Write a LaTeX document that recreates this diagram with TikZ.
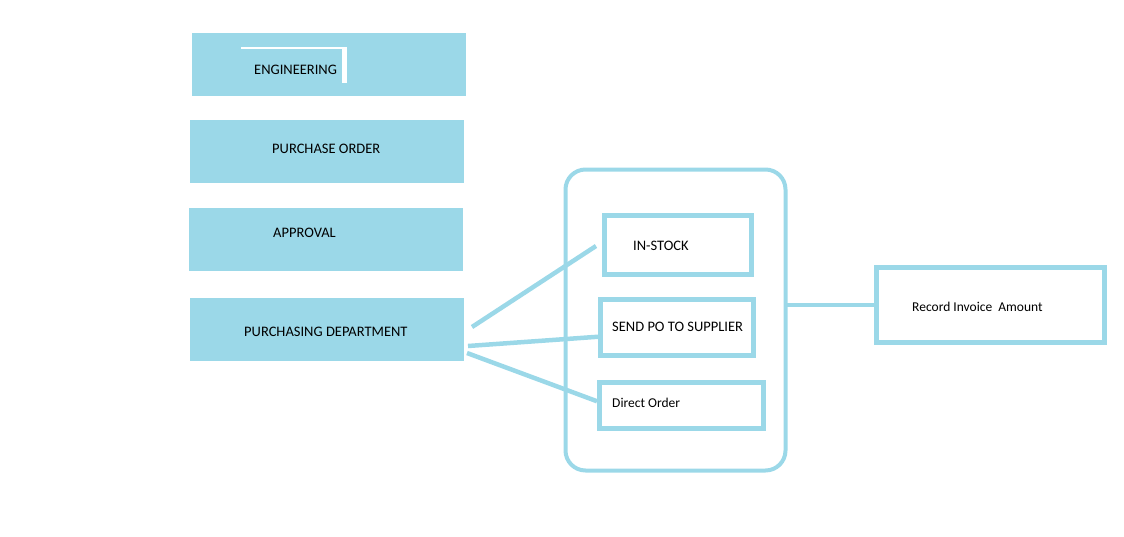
\documentclass[tikz,border=0pt]{standalone}
\usepackage{fontspec}
\setmainfont{Carlito}
\usetikzlibrary{calc}
\definecolor{lblue}{RGB}{155,216,232}
\tikzset{
  fillbox/.style={fill=lblue, draw=none, inner sep=0pt, outer sep=0pt},
  linebox/.style={draw=lblue, line width=5pt, fill=white, inner sep=0pt, outer sep=0pt},
  txt/.style={anchor=west, inner sep=0pt, font=\fontsize{14.5}{16}\selectfont},
  txtm/.style={anchor=west, inner sep=0pt, font=\fontsize{13.5}{15}\selectfont},
  conn/.style={draw=lblue, line width=4.5pt},
}
\begin{document}
\begin{tikzpicture}[x=1pt,y=-1pt]
\useasboundingbox (0,0) rectangle (1124,536);
% left filled boxes
\node[fillbox, minimum width=274pt, minimum height=63pt] (eng) at (329,64.5) {};
\node[fillbox, minimum width=274pt, minimum height=63pt] (po) at (327,151.5) {};
\node[fillbox, minimum width=274pt, minimum height=63pt] (appr) at (326,239.5) {};
\node[fillbox, minimum width=274pt, minimum height=63pt] (pd) at (327,329.5) {};
% white mark in engineering box
\fill[white] (241,47) rectangle (347,49);
\fill[white] (342,47) rectangle (347,83);
\node[txt] (tEng) at (254,70) {ENGINEERING};
\node[txt] (tPo) at (272,149) {PURCHASE ORDER};
\node[txt] (tAppr) at (273,233) {APPROVAL};
\node[txt] (tPd) at (244,332) {PURCHASING DEPARTMENT};
% container
\node[draw=lblue, line width=4pt, rounded corners=20pt, minimum width=220pt, minimum height=301pt, inner sep=0pt, outer sep=0pt] (cont) at (675.5,320) {};
% inner boxes
\node[linebox, minimum width=147.5pt, minimum height=59pt] (instock) at (677.75,245) {};
\node[linebox, minimum width=153pt, minimum height=56.5pt] (sendpo) at (677,327.25) {};
\node[linebox, minimum width=164.5pt, minimum height=45.5pt] (direct) at (681.25,405.25) {};
\node[txt] (tIn) at (633,246) {IN-STOCK};
\node[txt] (tSend) at (612,327) {SEND PO TO SUPPLIER};
\node[txtm] (tDir) at (612,403) {Direct Order};
% record box
\node[linebox, minimum width=228pt, minimum height=75pt] (record) at (990,305) {};
\node[txtm] (tRec) at (912,307) {Record Invoice\ \ Amount};
% connectors
\draw[conn] ($(pd.east)+(8,-2.5)$) -- ($(instock.west)+(-8,1)$);
\draw[conn] ($(pd.east)+(4,16.5)$) -- ($(sendpo.west)+(-2.5,9.5)$);
\draw[conn] ($(pd.east)+(3,23.5)$) -- ($(direct.west)+(-2,-4)$);
\draw[conn] (cont.east |- record.west) -- (record.west);
\end{tikzpicture}
\end{document}
